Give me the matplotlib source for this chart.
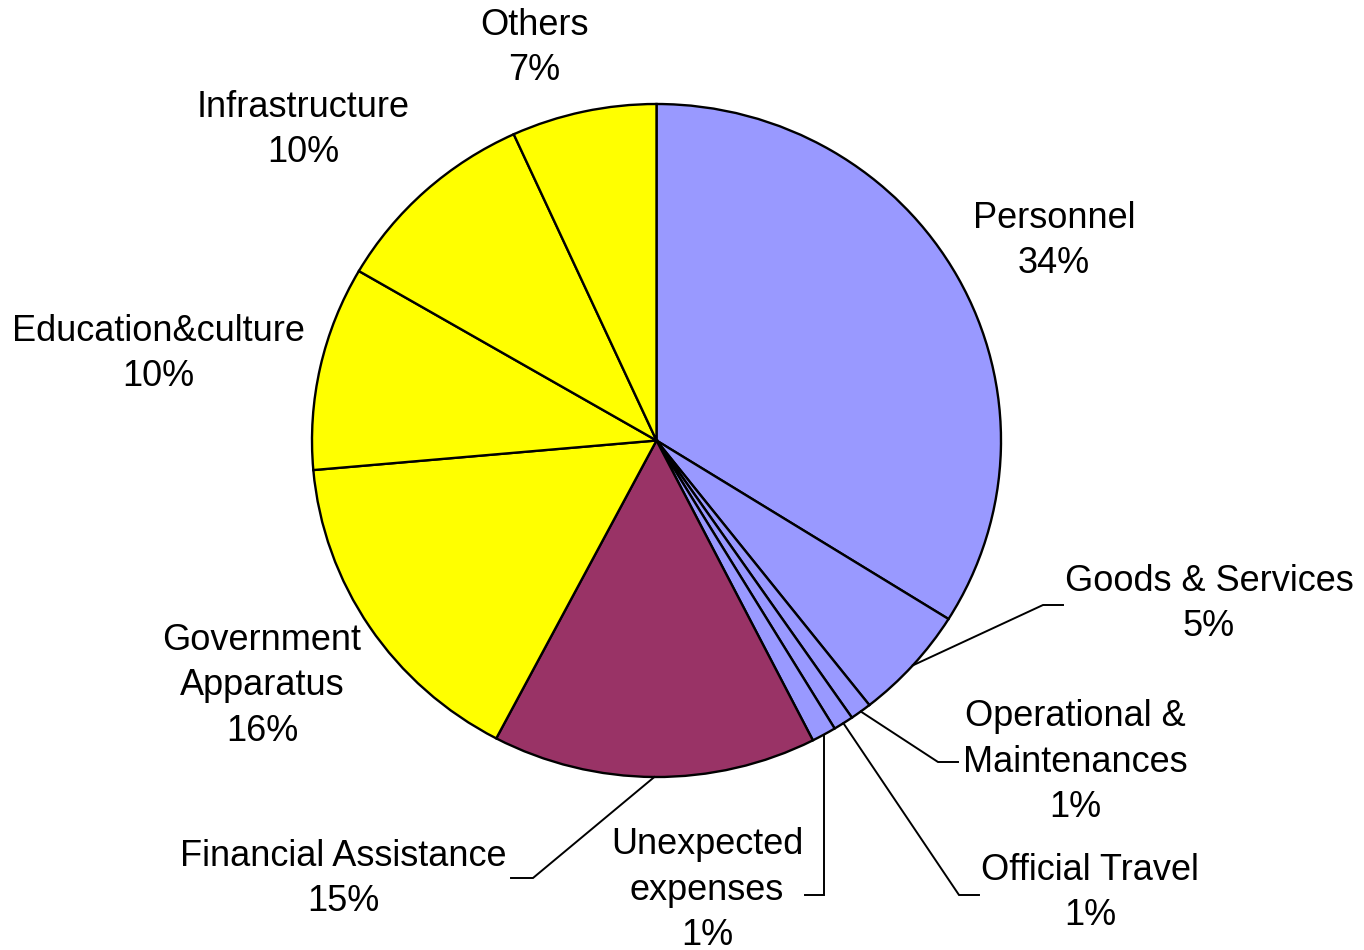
import matplotlib
matplotlib.use("Agg")
import matplotlib.pyplot as plt
import numpy as np

plt.rcParams['font.family'] = ['Liberation Sans', 'DejaVu Sans']

categories = ["Personnel", "Goods & Services", "Operational &\nMaintenances", "Official Travel",
              "Unexpected\nexpenses", "Financial Assistance", "Government\nApparatus",
              "Education&culture", "Infrastructure", "Others"]
values = [33.9, 5.5, 1.0, 0.95, 1.15, 15.2, 15.9, 9.8, 9.8, 6.8]
pct_labels = ["34%", "5%", "1%", "1%", "1%", "15%", "16%", "10%", "10%", "7%"]
colors = ["#9999FF", "#9999FF", "#9999FF", "#9999FF", "#9999FF", "#993366",
          "#FFFF00", "#FFFF00", "#FFFF00", "#FFFF00"]

W, H = 1364, 950
fig = plt.figure(figsize=(W / 100, H / 100), dpi=100)
ax = fig.add_axes([0, 0, 1, 1])

CX, CY, RX, RY = 656.5, 440.5, 344.5, 336.5

def px(x, y):
    return ((x - CX) / RX, (CY - y) / RY)

wedges, _ = ax.pie(values, colors=colors, startangle=90, counterclock=False,
                   radius=1.0, wedgeprops=dict(edgecolor="black", linewidth=1.7))
ax.set_aspect('auto')
ax.set_xlim(-CX / RX, (W - CX) / RX)
ax.set_ylim((CY - H) / RY, CY / RY)
ax.axis('off')

# label text centres (pixel coords, top-down)
label_pos = [(1054, 241), (1209, 604), (1075, 762), (1090, 893), (707, 890),
             (343, 879), (262, 686), (158, 354), (303, 130), (534, 48)]
# leader lines: (elbow, end) in pixel coords or None; elbow x None = vertical
leaders = [None, ((1043, 605), (1063, 605)), ((938, 762), (958, 762)),
           ((959, 895), (979, 895)), ((None, 895), (805, 895)),
           ((533, 878), (511, 878)), None, None, None, None]

for i, w in enumerate(wedges):
    x, y = px(*label_pos[i])
    ax.text(x, y, categories[i] + "\n" + pct_labels[i], ha="center", va="center",
            fontsize=26, linespacing=1.40, color="black")
    if leaders[i] is not None:
        mid = np.deg2rad((w.theta1 + w.theta2) / 2)
        sx, sy = np.cos(mid), np.sin(mid)
        (ex, ey), (fx, fy) = leaders[i]
        e = px(ex if ex is not None else 0, ey)
        ex_d = e[0] if ex is not None else sx
        f = px(fx, fy)
        ax.plot([sx, ex_d, f[0]], [sy, e[1], f[1]], color="black", lw=1.4,
                solid_joinstyle="miter")

fig.savefig("out.png", dpi=100)
